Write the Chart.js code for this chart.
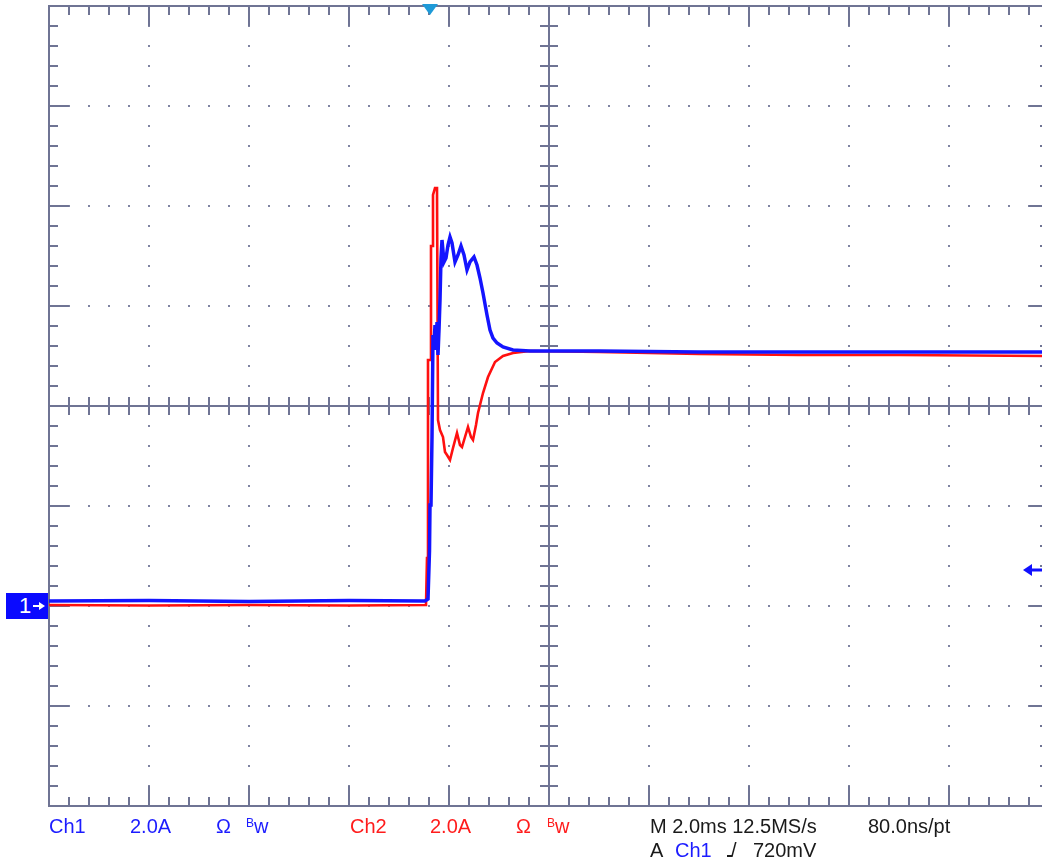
<!DOCTYPE html>
<html>
<head>
<meta charset="utf-8">
<script src="https://cdn.jsdelivr.net/npm/chart.js@4.4.1/dist/chart.umd.min.js"></script>
<style>
  html, body { margin: 0; padding: 0; background: #fff; overflow: hidden; width: 1042px; height: 865px; }
  #wrap { position: relative; width: 1042px; height: 865px; overflow: hidden; }
  canvas { position: absolute; left: 0; top: 0; }
  .ro { position: absolute; font-family: "Liberation Sans", Arial, sans-serif; font-size: 20px; line-height: 20px; white-space: nowrap; }
  .b { color: #1c1cff; }
  .r { color: #ff1c1c; }
  .k { color: #1a1a1a; }
  .sup { font-size: 12px; position: relative; top: -6px; }
  .edge { display: inline-block; position: relative; }
  .edge::before { content: ""; position: absolute; left: -4px; bottom: 3px; width: 5px; height: 2px; background: #1a1a1a; }
  #m1 { position: absolute; left: 6px; width: 42px; height: 26px; background: #0a0aff; color: #fff;
        font-family: "Liberation Sans", Arial, sans-serif; font-size: 22px; line-height: 26px; }
  #m1 span { position: absolute; left: 13px; top: 0; }
</style>
</head>
<body>
<div id="wrap">
  <div id="m1"><span>1</span></div>
  <canvas id="scope" width="1100" height="865"></canvas>
  <div class="ro b" style="left:49px;top:816px">Ch1</div>
  <div class="ro b" style="left:130px;top:816px">2.0A</div>
  <div class="ro b" style="left:216px;top:816px">Ω</div>
  <div class="ro b" style="left:246px;top:816px"><span class="sup">B</span>w</div>
  <div class="ro r" style="left:350px;top:816px">Ch2</div>
  <div class="ro r" style="left:430px;top:816px">2.0A</div>
  <div class="ro r" style="left:516px;top:816px">Ω</div>
  <div class="ro r" style="left:547px;top:816px"><span class="sup">B</span>w</div>
  <div class="ro k" style="left:650px;top:816px">M 2.0ms 12.5MS/s</div>
  <div class="ro k" style="left:868px;top:816px">80.0ns/pt</div>
  <div class="ro k" style="left:650px;top:840px">A</div>
  <div class="ro b" style="left:675px;top:840px">Ch1</div>
  <div class="ro k" style="left:731px;top:840px"><span class="edge">/</span></div>
  <div class="ro k" style="left:753px;top:840px">720mV</div>
</div>
<script>
// Time base: 10 divisions x 2.0 ms, measured from the left edge of the screen (ms)
const timeDivision = 2.0;
const timeSpan = [0, 20];
// Vertical: both channels at 2.0 A/div, 8 divisions, Ch1 ground two divisions below centre (A)
const ampsDivision = 2.0;
const ampsSpan = [-4, 12];
const triggerTime = 7.62;   // ms
const triggerLevel = 0.72;  // A (720mV on Ch1 probe)

// Ch1 (blue) current trace
const ch1Time = [0, 2, 4, 6, 7.52, 7.58, 7.61, 7.62, 7.64, 7.66, 7.68, 7.70, 7.72, 7.74, 7.76, 7.78, 7.80,
  7.82, 7.84, 7.86, 7.90, 7.94, 7.98, 8.02, 8.06, 8.12, 8.18, 8.24, 8.30, 8.36, 8.42, 8.50, 8.56,
  8.62, 8.68, 8.76, 8.82, 8.88, 8.96, 9.08, 9.28, 9.62, 11.0, 13.0, 15.0, 17.0, 19.9];
const ch1Current = [0.10, 0.11, 0.09, 0.11, 0.10, 0.14, 1.10, 2.02, 2.02, 3.38, 5.42, 5.22, 5.62, 5.12, 5.68, 5.02, 5.52,
  6.12, 6.96, 7.32, 6.88, 6.96, 7.22, 7.38, 7.26, 6.88, 7.02, 7.20, 7.02, 6.72, 6.88, 6.98, 6.82,
  6.56, 6.26, 5.82, 5.52, 5.36, 5.26, 5.18, 5.12, 5.10, 5.10, 5.08, 5.08, 5.08, 5.08];

// Ch2 (red) current trace
const ch2Time = [0, 2, 4, 6, 7.54, 7.56, 7.58, 7.58, 7.64, 7.64, 7.68, 7.68, 7.72, 7.76, 7.78, 7.82,
  7.88, 7.92, 7.96, 8.02, 8.08, 8.16, 8.22, 8.26, 8.32, 8.38, 8.44, 8.48, 8.54, 8.58, 8.68, 8.78,
  8.92, 9.08, 9.28, 9.62, 11.0, 13.0, 15.0, 17.0, 19.9];
const ch2Current = [0.02, 0.01, 0.02, 0.01, 0.02, 0.96, 0.96, 4.92, 4.92, 7.20, 7.20, 8.22, 8.36, 8.36, 3.72, 3.52,
  3.38, 3.08, 3.02, 2.92, 3.16, 3.46, 3.22, 3.18, 3.38, 3.58, 3.38, 3.32, 3.62, 3.86, 4.26, 4.58,
  4.88, 5.00, 5.06, 5.10, 5.08, 5.04, 5.02, 5.02, 5.00];

const toPoints = (t, v) => t.map((x, i) => ({ x, y: v[i] }));

const gridColor = '#6f7494';
const dotColor = '#7f84a2';

// Oscilloscope graticule: border with ticks, dotted division lines, centre crosshair
const graticule = {
  id: 'graticule',
  beforeDatasetsDraw(chart) {
    const { ctx, chartArea: { left, top, right, bottom }, scales: { x, y } } = chart;
    const minorX = timeDivision / 5, minorY = ampsDivision / 5;
    const xs = [], ys = [], xMaj = [], yMaj = [];
    for (let v = timeSpan[0]; v <= timeSpan[1] + 1e-9; v += minorX) xs.push(x.getPixelForValue(v));
    for (let v = ampsSpan[0]; v <= ampsSpan[1] + 1e-9; v += minorY) ys.push(y.getPixelForValue(v));
    for (let v = timeSpan[0]; v <= timeSpan[1] + 1e-9; v += timeDivision) xMaj.push(x.getPixelForValue(v));
    for (let v = ampsSpan[0]; v <= ampsSpan[1] + 1e-9; v += ampsDivision) yMaj.push(y.getPixelForValue(v));
    const cx = x.getPixelForValue((timeSpan[0] + timeSpan[1]) / 2);
    const cy = y.getPixelForValue((ampsSpan[0] + ampsSpan[1]) / 2);
    ctx.save();
    // dotted division lines
    ctx.fillStyle = dotColor;
    xMaj.forEach(px => ys.forEach(py => ctx.fillRect(Math.round(px) - 1, Math.round(py) - 1, 2, 2)));
    yMaj.forEach(py => xs.forEach(px => ctx.fillRect(Math.round(px) - 1, Math.round(py) - 1, 2, 2)));
    ctx.strokeStyle = gridColor;
    ctx.lineWidth = 2;
    ctx.beginPath();
    // centre crosshair
    ctx.moveTo(left, cy); ctx.lineTo(right, cy);
    ctx.moveTo(cx, top); ctx.lineTo(cx, bottom);
    xs.forEach(px => { ctx.moveTo(px, cy - 9); ctx.lineTo(px, cy + 9); });
    ys.forEach(py => { ctx.moveTo(cx - 9, py); ctx.lineTo(cx + 9, py); });
    // border ticks: short at minor steps, long at divisions
    xs.forEach((px, i) => {
      const len = (i % 5 === 0) ? 20 : 9;
      ctx.moveTo(px, top); ctx.lineTo(px, top + len);
      ctx.moveTo(px, bottom); ctx.lineTo(px, bottom - len);
    });
    ys.forEach((py, i) => {
      const len = (i % 5 === 0) ? 20 : 9;
      ctx.moveTo(left, py); ctx.lineTo(left + len, py);
      ctx.moveTo(right, py); ctx.lineTo(right - len, py);
    });
    ctx.stroke();
    ctx.strokeRect(left, top, right - left, bottom - top);
    ctx.restore();
  },
  afterDatasetsDraw(chart) {
    const { ctx, chartArea: { top }, scales: { x, y } } = chart;
    ctx.save();
    // trigger position marker
    const tx = x.getPixelForValue(triggerTime);
    ctx.fillStyle = '#1e9ad8';
    ctx.beginPath();
    ctx.moveTo(tx - 8, top - 2); ctx.lineTo(tx + 8, top - 2); ctx.lineTo(tx, top + 9);
    ctx.closePath(); ctx.fill();
    // trigger level arrow
    const ty = Math.round(y.getPixelForValue(triggerLevel));
    ctx.strokeStyle = '#1010ff'; ctx.fillStyle = '#1010ff'; ctx.lineWidth = 3;
    ctx.beginPath(); ctx.moveTo(1030, ty); ctx.lineTo(1042, ty); ctx.stroke();
    ctx.beginPath(); ctx.moveTo(1023, ty); ctx.lineTo(1032, ty - 6); ctx.lineTo(1032, ty + 6); ctx.closePath(); ctx.fill();
    // arrow inside the Ch1 ground marker
    const gy = Math.round(y.getPixelForValue(0));
    ctx.strokeStyle = '#ffffff'; ctx.fillStyle = '#ffffff'; ctx.lineWidth = 2;
    ctx.beginPath(); ctx.moveTo(33, gy); ctx.lineTo(41, gy); ctx.stroke();
    ctx.beginPath(); ctx.moveTo(45, gy); ctx.lineTo(39, gy - 4); ctx.lineTo(39, gy + 4); ctx.closePath(); ctx.fill();
    ctx.restore();
  }
};

const chart = new Chart(document.getElementById('scope'), {
  type: 'line',
  data: {
    datasets: [
      { label: 'Ch1', data: toPoints(ch1Time, ch1Current), borderColor: '#1414ff', borderWidth: 3.5, pointRadius: 0, tension: 0 },
      { label: 'Ch2', data: toPoints(ch2Time, ch2Current), borderColor: '#ff1010', borderWidth: 2.6, pointRadius: 0, tension: 0 }
    ]
  },
  options: {
    responsive: false,
    animation: false,
    layout: { padding: { left: 49, top: 6, right: 51, bottom: 59 } },
    plugins: { legend: { display: false }, tooltip: { enabled: false } },
    scales: {
      x: { type: 'linear', min: timeSpan[0], max: timeSpan[1], display: false },
      y: { type: 'linear', min: ampsSpan[0], max: ampsSpan[1], display: false }
    }
  },
  plugins: [graticule]
});

// Ch1 ground reference marker sits at 0 A
const m1 = document.getElementById('m1');
m1.style.top = (Math.round(chart.scales.y.getPixelForValue(0)) - 13) + 'px';
</script>
</body>
</html>
